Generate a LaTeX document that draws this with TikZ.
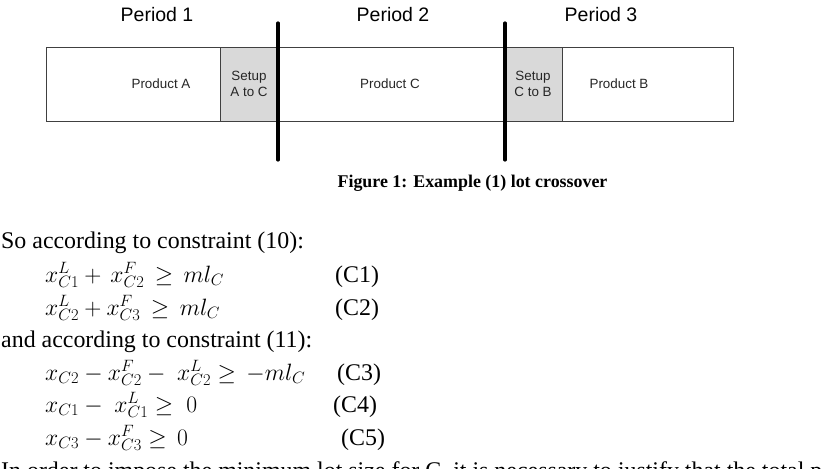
\documentclass[tikz,border=0pt]{standalone}
\usepackage{graphicx}
\usepackage{fontspec}
\setmainfont{Liberation Serif}
\newfontfamily\arialf{Liberation Sans}
\newcommand{\eqbox}[1]{\scalebox{0.95}{$#1$}}
\begin{document}
\begin{tikzpicture}[x=1pt,y=-1pt,
  seg/.style={draw=black!75, line width=0.8pt, minimum height=74pt, inner sep=0pt, outer sep=0pt, anchor=north west},
  setupseg/.style={seg, fill=black!15},
  boxtxt/.style={font=\arialf\fontsize{13.4}{16}\selectfont, text=black!85, align=center, inner sep=0pt},
  periodtxt/.style={font=\arialf\fontsize{19.5}{22}\selectfont, inner sep=0pt},
  divider/.style={line width=3.2pt, line cap=round},
  body/.style={font=\fontsize{23.9}{28}\selectfont, anchor=base west, inner sep=0pt},
  eqn/.style={font=\fontsize{23}{28}\selectfont, anchor=base west, inner sep=0pt},
]
\useasboundingbox (0,0) rectangle (821,468);
\clip (0,0) rectangle (821,468);
% bars
\node[seg, minimum width=174pt] (pa) at (46,47) {};
\node[setupseg, minimum width=57pt] (sac) at (220,47) {};
\node[seg, minimum width=228pt] (pc) at (277,47) {};
\node[setupseg, minimum width=57pt] (scb) at (505,47) {};
\node[seg, minimum width=171pt] (pb) at (562,47) {};
% labels
\node[boxtxt] (la) at (161,84) {Product A};
\node[boxtxt] (lsac) at (249,84) {Setup\\A to C};
\node[boxtxt] (lc) at (390,84) {Product C};
\node[boxtxt] (lscb) at (533,84) {Setup\\C to B};
\node[boxtxt] (lb) at (619,84) {Product B};
% periods
\node[periodtxt] (p1) at (157,15) {Period 1};
\node[periodtxt] (p2) at (393,15) {Period 2};
\node[periodtxt] (p3) at (601,15) {Period 3};
% dividers
\coordinate (t1) at (278,23); \coordinate (b1) at (278,160);
\coordinate (t2) at (505,23); \coordinate (b2) at (505,160);
\draw[divider] (t1) -- (b1);
\draw[divider] (t2) -- (b2);
% caption
\node[font=\bfseries\fontsize{17.9}{20}\selectfont, inner sep=0pt] (cap) at (472.5,183) {Figure 1: Example (1) lot crossover};
% body text
\node[body] (s1) at (1,248) {So according to constraint (10):};
\node[eqn] (e1) at (45,282) {\eqbox{x^{L}_{C1} +\, x^{F}_{C2} \,\geq\, ml_{C}}};
\node[body] (c1) at (335,282) {(C1)};
\node[eqn] (e2) at (45,315) {\eqbox{x^{L}_{C2} + x^{F}_{C3} \,\geq\, ml_{C}}};
\node[body] (c2) at (335,315) {(C2)};
\node[body] (s2) at (1,347) {and according to constraint (11):};
\node[eqn] (e3) at (45,380) {\eqbox{x_{C2} - x^{F}_{C2} -\; x^{L}_{C2} \geq\, -ml_{C}}};
\node[body] (c3) at (337,380) {(C3)};
\node[eqn] (e4) at (45,412) {\eqbox{x_{C1} -\; x^{L}_{C1} \geq\; 0}};
\node[body] (c4) at (333,412) {(C4)};
\node[eqn] (e5) at (45,445) {\eqbox{x_{C3} - x^{F}_{C3} \geq\, 0}};
\node[body] (c5) at (341,445) {(C5)};
\node[body] (s3) at (1,478) {In order to impose the minimum lot size for C, it is necessary to justify that the total production};
\end{tikzpicture}
\end{document}
